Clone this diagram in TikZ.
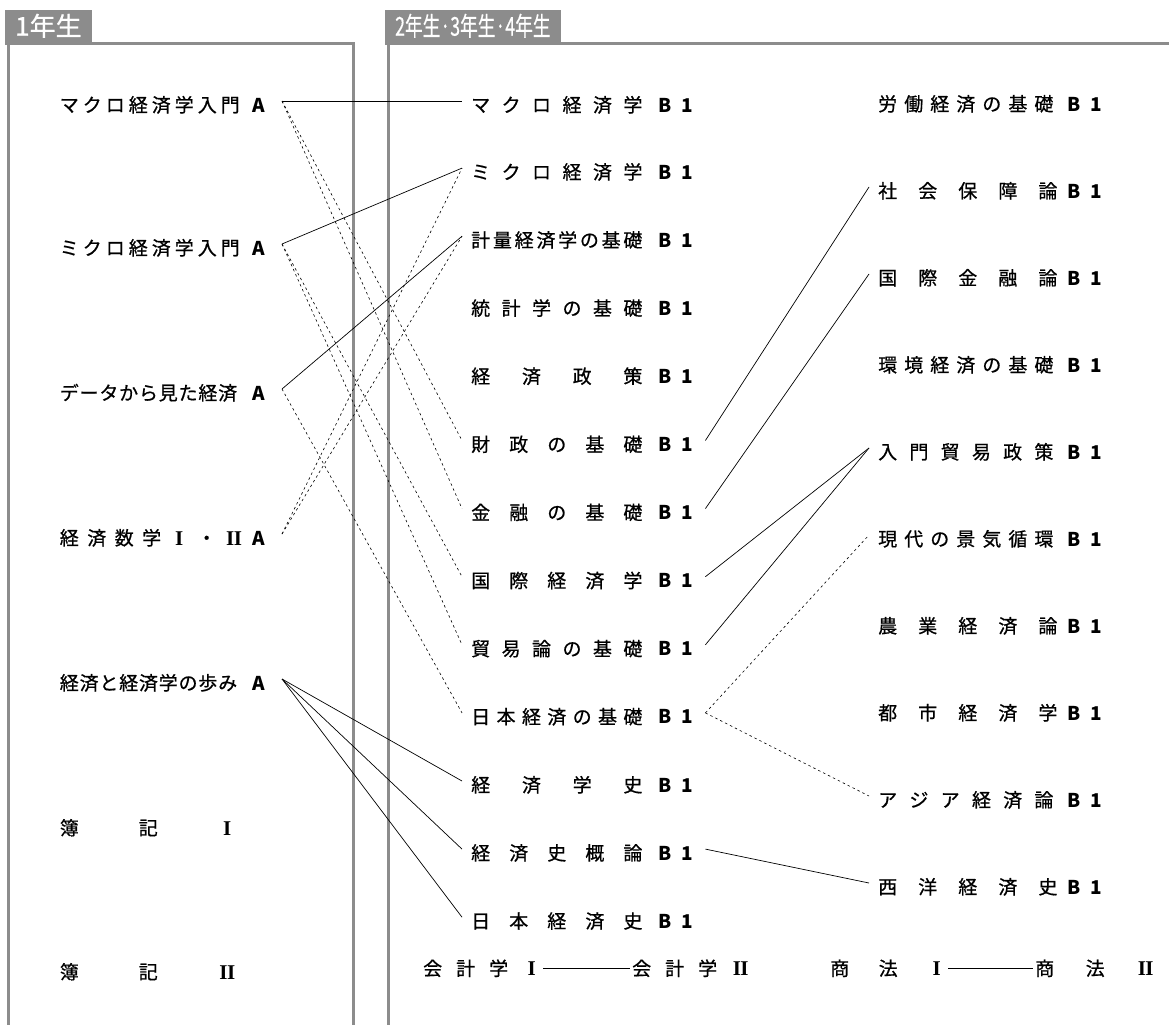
\documentclass[tikz,border=0pt]{standalone}
\usepackage{fontspec}
\setmainfont{Noto Sans CJK JP}[UprightFeatures={FakeBold=0.7}]
\newfontfamily\romfont{Liberation Serif}
\definecolor{framegray}{HTML}{8C8C8C}
\newcommand\labfont{\fontsize{19pt}{22pt}\selectfont}
\newcommand\hdrfont{\fontsize{26pt}{30pt}\selectfont}
\newcommand\tB{\textbf{B}}
\newcommand\tO{\textbf{1}}
\newcommand\tA{\textbf{A}}
\newcommand\rnI{\makebox[1em]{\romfont\bfseries\fontsize{21pt}{22pt}\selectfont I}}
\newcommand\rnII{\makebox[1em]{\romfont\bfseries\fontsize{21pt}{22pt}\selectfont I\kern-0.5pt I}}
\newcommand\mrow[1]{\makebox[222pt][s]{#1}\kern3pt}
\newcommand\rrow[1]{\makebox[224pt][s]{#1}}
\newcommand\lrow[1]{\makebox[205pt][s]{#1}}
\newcommand\msuf{\kern16pt\tB\kern10pt\tO}
\newcommand\rsuf{\kern14pt\tB\kern10pt\tO}
\newcommand\rsufw{\kern10pt\tB\kern10pt\tO}
\begin{document}
\begin{tikzpicture}[x=1pt,y=-1pt,
 lab/.style={inner ysep=0pt, text height=22pt, text depth=0pt, font=\labfont},
 leftlab/.style={lab, anchor=east, inner xsep=17pt},
 midlab/.style={lab, anchor=west, inner xsep=9pt},
 rightlab/.style={lab, anchor=west, inner xsep=9pt},
 botlab/.style={inner ysep=0pt, inner xsep=2pt, text height=15pt, text depth=0pt, font=\labfont, anchor=west},
 hdr/.style={fill=framegray, text=white, font=\hdrfont, anchor=north west, inner xsep=10pt, inner ysep=0pt, minimum height=34pt, text height=19.5pt, text depth=2.5pt},
 frame/.style={draw=framegray, line width=3pt},
 link/.style={line width=0.7pt},
 dlink/.style={line width=0.6pt, dash pattern=on 2.5pt off 3pt}]
\useasboundingbox (0,0) rectangle (1169,1025);
% frames
\draw[frame] (5,43.5) -- (353,43.5) -- (353,1025);
\draw[frame] (8.5,43.5) -- (8.5,1025);
\draw[frame] (385,43.5) -- (1169,43.5);
\draw[frame] (388,43.5) -- (388,1025);
\node[hdr] (h1) at (5,10) {1年生};
\node[hdr] (h2) at (385,10) {\scalebox{0.68}[1]{2年生·3年生·4年生}};
% left column
\node[leftlab] (l1) at (282,101) {\lrow{マ\kern4pt ク\kern4pt ロ\kern4pt 経\kern4pt 済\kern4pt 学\kern4pt 入\kern4pt 門\hfil\tA}};
\node[leftlab] (l2) at (282,244) {\lrow{ミ\kern4pt ク\kern4pt ロ\kern4pt 経\kern4pt 済\kern4pt 学\kern4pt 入\kern4pt 門\hfil\tA}};
\node[leftlab] (l3) at (282,389) {\lrow{デ\kern0.8pt ー\kern0.8pt タ\kern0.8pt か\kern0.8pt ら\kern0.8pt 見\kern0.8pt た\kern0.8pt 経\kern0.8pt 済\hfil\tA}};
\node[leftlab] (l4) at (282,534) {\lrow{経\hfil 済\hfil 数\hfil 学\hfil \rnI\hfil ・\hfil \rnII\hfil \tA}};
\node[leftlab] (l5) at (282,679) {\lrow{経\kern0.8pt 済\kern0.8pt と\kern0.8pt 経\kern0.8pt 済\kern0.8pt 学\kern0.8pt の\kern0.8pt 歩\kern0.8pt み\hfil\tA}};
\node[leftlab] (l6) at (282,824) {\lrow{\makebox[177pt][s]{簿\hfil 記\hfil \rnI}\hfil}};
\node[leftlab] (l7) at (282,968) {\lrow{\makebox[177pt][s]{簿\hfil 記\hfil \rnII}\hfil}};
% middle column
\node[midlab] (m1) at (462,101) {\mrow{マ\hfil ク\hfil ロ\hfil 経\hfil 済\hfil 学\msuf}};
\node[midlab] (m2) at (462,168.1) {\mrow{ミ\hfil ク\hfil ロ\hfil 経\hfil 済\hfil 学\msuf}};
\node[midlab] (m3) at (462,236.2) {\mrow{計\hfil 量\hfil 経\hfil 済\hfil 学\hfil の\hfil 基\hfil 礎\msuf}};
\node[midlab] (m4) at (462,304.3) {\mrow{統\hfil 計\hfil 学\hfil の\hfil 基\hfil 礎\msuf}};
\node[midlab] (m5) at (462,372.4) {\mrow{経\hfil 済\hfil 政\hfil 策\msuf}};
\node[midlab] (m6) at (462,440.5) {\mrow{財\hfil 政\hfil の\hfil 基\hfil 礎\msuf}};
\node[midlab] (m7) at (462,508.6) {\mrow{金\hfil 融\hfil の\hfil 基\hfil 礎\msuf}};
\node[midlab] (m8) at (462,576.7) {\mrow{国\hfil 際\hfil 経\hfil 済\hfil 学\msuf}};
\node[midlab] (m9) at (462,644.8) {\mrow{貿\hfil 易\hfil 論\hfil の\hfil 基\hfil 礎\msuf}};
\node[midlab] (m10) at (462,712.9) {\mrow{日\hfil 本\hfil 経\hfil 済\hfil の\hfil 基\hfil 礎\msuf}};
\node[midlab] (m11) at (462,781) {\mrow{経\hfil 済\hfil 学\hfil 史\msuf}};
\node[midlab] (m12) at (462,849.1) {\mrow{経\hfil 済\hfil 史\hfil 概\hfil 論\msuf}};
\node[midlab] (m13) at (462,917.2) {\mrow{日\hfil 本\hfil 経\hfil 済\hfil 史\msuf}};
% right column
\node[rightlab] (r1) at (869,100) {\rrow{労\hfil 働\hfil 経\hfil 済\hfil の\hfil 基\hfil 礎\rsuf}};
\node[rightlab] (r2) at (869,187) {\rrow{社\hfil 会\hfil 保\hfil 障\hfil 論\rsufw}};
\node[rightlab] (r3) at (869,274) {\rrow{国\hfil 際\hfil 金\hfil 融\hfil 論\rsufw}};
\node[rightlab] (r4) at (869,361) {\rrow{環\hfil 境\hfil 経\hfil 済\hfil の\hfil 基\hfil 礎\rsuf}};
\node[rightlab] (r5) at (869,448) {\rrow{入\hfil 門\hfil 貿\hfil 易\hfil 政\hfil 策\rsuf}};
\node[rightlab] (r6) at (869,535) {\rrow{現\hfil 代\hfil の\hfil 景\hfil 気\hfil 循\hfil 環\rsuf}};
\node[rightlab] (r7) at (869,622) {\rrow{農\hfil 業\hfil 経\hfil 済\hfil 論\rsufw}};
\node[rightlab] (r8) at (869,709) {\rrow{都\hfil 市\hfil 経\hfil 済\hfil 学\rsufw}};
\node[rightlab] (r9) at (869,796) {\rrow{ア\hfil ジ\hfil ア\hfil 経\hfil 済\hfil 論\rsuf}};
\node[rightlab] (r10) at (869,883) {\rrow{西\hfil 洋\hfil 経\hfil 済\hfil 史\rsufw}};
% bottom row
\node[botlab] (b1) at (421,968) {\makebox[118pt][s]{会\hfil 計\hfil 学\hfil \rnI}};
\node[botlab] (b2) at (630,968) {\makebox[118pt][s]{会\hfil 計\hfil 学\hfil \rnII}};
\node[botlab] (b3) at (828,968) {\makebox[116pt][s]{商\hfil 法\hfil \rnI}};
\node[botlab] (b4) at (1033,968) {\makebox[120pt][s]{商\hfil 法\hfil \rnII}};
% connectors left -> middle
\draw[link] (l1.east) -- (m1.west);
\draw[dlink] (l1.east) -- (m6.west);
\draw[dlink] (l1.east) -- (m7.west);
\draw[link] (l2.east) -- (m2.west);
\draw[dlink] (l2.east) -- (m8.west);
\draw[dlink] (l2.east) -- (m9.west);
\draw[link] (l3.east) -- (m3.west);
\draw[dlink] (l3.east) -- (m10.west);
\draw[dlink] (l4.east) -- (m2.west);
\draw[dlink] (l4.east) -- (m3.west);
\draw[link] (l5.east) -- (m11.west);
\draw[link] (l5.east) -- (m12.west);
\draw[link] (l5.east) -- (m13.west);
% connectors middle -> right
\draw[link] (m6.east) -- (r2.west);
\draw[link] (m7.east) -- (r3.west);
\draw[link] (m8.east) -- (r5.west);
\draw[link] (m9.east) -- (r5.west);
\draw[dlink] (m10.east) -- (r6.west);
\draw[dlink] (m10.east) -- (r9.west);
\draw[link] (m12.east) -- (r10.west);
% bottom connectors
\draw[link] (b1.east) -- (b2.west);
\draw[link] (b3.east) -- (b4.west);
\end{tikzpicture}
\end{document}
